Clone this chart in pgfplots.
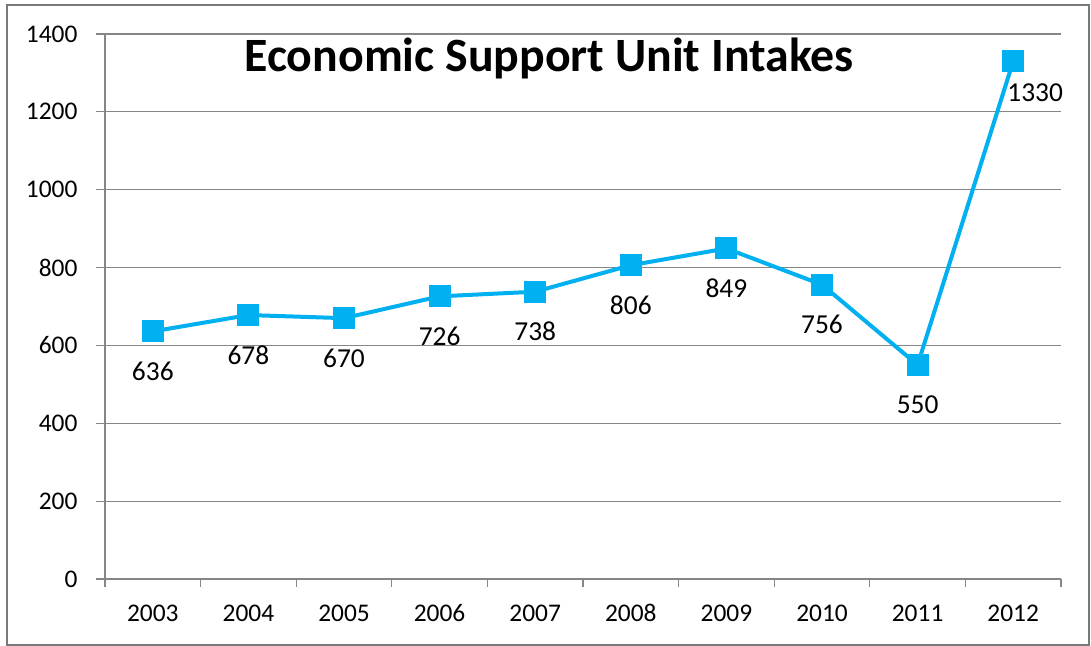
\documentclass[border=0pt]{standalone}
\usepackage{pgfplots}
\pgfplotsset{compat=1.18}
\usepackage{fontspec}
\setmainfont{Carlito}
\definecolor{linec}{HTML}{00B0F0}
\definecolor{gridc}{HTML}{868686}
\begin{document}
\begin{tikzpicture}[x=1bp,y=1bp]
\useasboundingbox (0,0) rectangle (1091,646);
\fill[white] (0,0) rectangle (1091,646);
\draw[gridc!90!black, line width=1.5bp] (7,1) rectangle (1089,641);
\begin{axis}[
  at={(105bp,67bp)}, anchor=south west,
  width=956bp, height=545bp, scale only axis,
  xmin=-0.5, xmax=9.5, ymin=0, ymax=1400,
  axis x line=bottom, axis y line=left,
  axis line style={-, gridc, line width=1.2bp},
  xtick={0,...,9},
  xticklabels={2003,2004,2005,2006,2007,2008,2009,2010,2011,2012},
  major x tick style={draw=none},
  minor xtick={-0.5,0.5,...,9.5},
  minor tick length=8bp,
  minor x tick style={gridc, line width=1.2bp},
  ytick={0,200,...,1400},
  major tick length=9bp,
  tick align=outside,
  y tick style={gridc, line width=1.2bp},
  ymajorgrids, grid style={gridc, line width=1.2bp},
  tick label style={font=\fontsize{25.5}{29}\selectfont, text=black},
  /pgf/number format/assume math mode=true,
  /pgf/number format/1000 sep={},
  xticklabel style={yshift=-13bp},
  yticklabel style={xshift=-15bp},
  clip=false,
]
\addplot[linec, line width=4bp, mark=square*, mark size=10.5bp, mark options={solid, fill=linec, draw=linec, line width=0pt}]
coordinates {(0,636) (1,678) (2,670) (3,726) (4,738) (5,806) (6,849) (7,756) (8,550) (9,1330)};
\addplot[draw=none, mark=none, nodes near coords,
  every node near coord/.append style={anchor=center, yshift=-40bp, font=\fontsize{27.5}{31}\selectfont, text=black},
  /pgf/number format/assume math mode=true]
coordinates {(0,636) (1,678) (2,670) (3,726) (4,738) (5,806) (6,849) (7,756) (8,550)};
\addplot[draw=none, mark=none, nodes near coords,
  every node near coord/.append style={anchor=center, xshift=22bp, yshift=-31bp, font=\fontsize{27.5}{31}\selectfont, text=black},
  /pgf/number format/assume math mode=true, /pgf/number format/1000 sep={}]
coordinates {(9,1330)};
\end{axis}
\node[font=\fontsize{48}{56}\bfseries\selectfont, text=black] at (549,588) {Economic Support Unit Intakes};
\end{tikzpicture}
\end{document}
